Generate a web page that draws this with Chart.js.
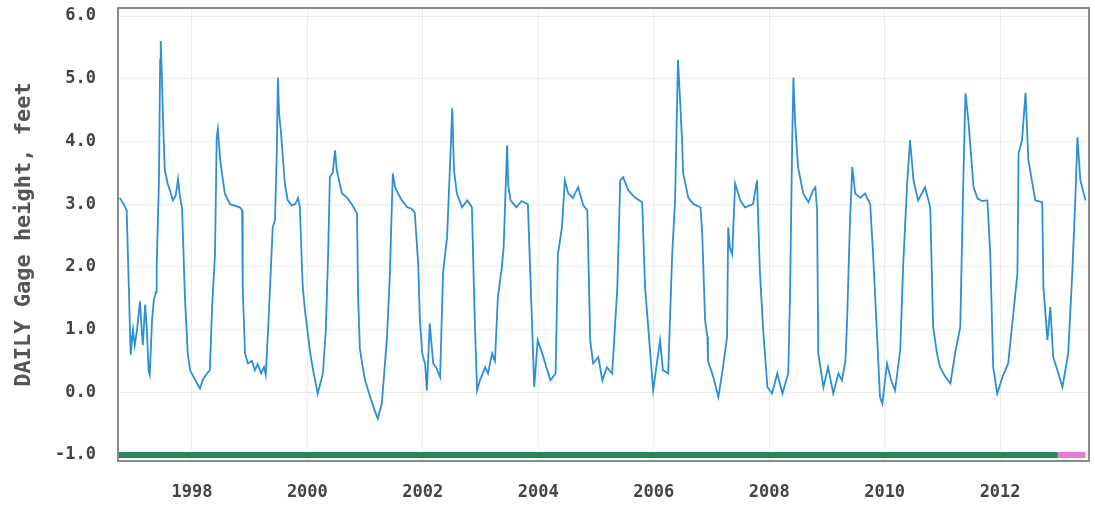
<!DOCTYPE html>
<html>
<head>
<meta charset="utf-8">
<script src="https://cdn.jsdelivr.net/npm/chart.js"></script>
<style>
  body { margin: 0; background: #fff; }
  #wrap { width: 1095px; height: 506px; position: relative; }
</style>
</head>
<body>
<div id="wrap"><canvas id="gageChart"></canvas></div>

<script>
  // DATA: decimal years and daily gage height (feet)
  const dates = [
    1996.75, 1996.82, 1996.87, 1996.91, 1996.93, 1996.94, 1996.98, 1997.01, 1997.05, 1997.10,
    1997.13, 1997.15, 1997.19, 1997.22, 1997.25, 1997.27, 1997.31, 1997.34, 1997.38, 1997.39,
    1997.43, 1997.45, 1997.46, 1997.48, 1997.50, 1997.53, 1997.58, 1997.62, 1997.67, 1997.72,
    1997.76, 1997.79, 1997.83, 1997.88, 1997.93, 1997.97, 1998.09, 1998.14, 1998.19, 1998.26,
    1998.31, 1998.35, 1998.40, 1998.43, 1998.45, 1998.49, 1998.57, 1998.66, 1998.83, 1998.87,
    1998.88, 1998.92, 1998.97, 1999.04, 1999.09, 1999.14, 1999.20, 1999.25, 1999.28, 1999.32,
    1999.40, 1999.44, 1999.47, 1999.49, 1999.51, 1999.54, 1999.61, 1999.66, 1999.73, 1999.79,
    1999.84, 1999.87, 1999.92, 1999.96, 2000.05, 2000.11, 2000.18, 2000.27, 2000.32, 2000.36,
    2000.39, 2000.44, 2000.48, 2000.51, 2000.60, 2000.69, 2000.77, 2000.86, 2000.88, 2000.91,
    2000.95, 2001.00, 2001.08, 2001.17, 2001.22, 2001.29, 2001.38, 2001.43, 2001.48, 2001.52,
    2001.57, 2001.64, 2001.73, 2001.80, 2001.86, 2001.92, 2001.95, 2001.99, 2002.04, 2002.07,
    2002.12, 2002.18, 2002.23, 2002.30, 2002.35, 2002.42, 2002.47, 2002.51, 2002.54, 2002.59,
    2002.68, 2002.77, 2002.85, 2002.90, 2002.94, 2002.99, 2003.08, 2003.13, 2003.20, 2003.25,
    2003.30, 2003.37, 2003.40, 2003.46, 2003.48, 2003.52, 2003.62, 2003.71, 2003.82, 2003.88,
    2003.93, 2003.99, 2004.07, 2004.14, 2004.21, 2004.30, 2004.34, 2004.41, 2004.46, 2004.52,
    2004.60, 2004.69, 2004.78, 2004.85, 2004.90, 2004.95, 2005.04, 2005.11, 2005.19, 2005.28,
    2005.37, 2005.42, 2005.47, 2005.56, 2005.68, 2005.80, 2005.85, 2005.94, 2005.99, 2006.06,
    2006.11, 2006.16, 2006.25, 2006.32, 2006.37, 2006.42, 2006.46, 2006.49, 2006.51, 2006.60,
    2006.69, 2006.81, 2006.84, 2006.89, 2006.93, 2006.94, 2007.03, 2007.12, 2007.20, 2007.27,
    2007.29, 2007.32, 2007.36, 2007.41, 2007.50, 2007.58, 2007.72, 2007.79, 2007.81, 2007.84,
    2007.90, 2007.97, 2008.05, 2008.14, 2008.23, 2008.33, 2008.36, 2008.40, 2008.42, 2008.45,
    2008.50, 2008.59, 2008.68, 2008.76, 2008.80, 2008.83, 2008.85, 2008.94, 2009.02, 2009.11,
    2009.20, 2009.26, 2009.32, 2009.35, 2009.40, 2009.44, 2009.49, 2009.58, 2009.66, 2009.75,
    2009.80, 2009.87, 2009.92, 2009.96, 2010.04, 2010.11, 2010.18, 2010.27, 2010.32, 2010.39,
    2010.44, 2010.50, 2010.58, 2010.70, 2010.79, 2010.84, 2010.91, 2010.96, 2011.05, 2011.14,
    2011.22, 2011.31, 2011.36, 2011.40, 2011.45, 2011.54, 2011.61, 2011.69, 2011.78, 2011.83,
    2011.88, 2011.95, 2012.04, 2012.14, 2012.23, 2012.30, 2012.32, 2012.38, 2012.44, 2012.49,
    2012.61, 2012.73, 2012.75, 2012.82, 2012.87, 2012.92, 2013.01, 2013.08, 2013.18, 2013.25,
    2013.30, 2013.34, 2013.39, 2013.48
  ];
  const gageHeight = [
    3.10, 3.00, 2.90, 1.60, 0.90, 0.60, 1.00, 0.75, 1.00, 1.45,
    1.00, 0.75, 1.40, 1.00, 0.35, 0.28, 1.15, 1.47, 1.60, 2.00,
    3.40, 5.30, 5.60, 5.05, 4.35, 3.55, 3.33, 3.22, 3.06, 3.14,
    3.40, 3.14, 2.93, 1.50, 0.60, 0.35, 0.14, 0.06, 0.20, 0.30,
    0.35, 1.35, 2.20, 4.07, 4.20, 3.70, 3.17, 3.00, 2.95, 2.90,
    1.67, 0.62, 0.46, 0.50, 0.35, 0.45, 0.30, 0.40, 0.28, 1.00,
    2.63, 2.75, 3.80, 5.02, 4.45, 4.18, 3.33, 3.06, 2.98, 3.00,
    3.10, 2.95, 1.68, 1.30, 0.62, 0.30, -0.02, 0.30, 1.00, 2.20,
    3.43, 3.50, 3.86, 3.54, 3.17, 3.10, 3.00, 2.85, 1.50, 0.70,
    0.45, 0.19, -0.05, -0.30, -0.42, -0.18, 0.88, 1.90, 3.49, 3.27,
    3.17, 3.06, 2.95, 2.93, 2.87, 2.05, 1.15, 0.62, 0.45, 0.03,
    1.10, 0.46, 0.40, 0.24, 1.90, 2.47, 3.59, 4.53, 3.54, 3.17,
    2.95, 3.06, 2.95, 1.15, 0.03, 0.19, 0.40, 0.30, 0.62, 0.50,
    1.51, 2.00, 2.31, 3.94, 3.30, 3.06, 2.95, 3.05, 3.00, 1.42,
    0.08, 0.83, 0.62, 0.40, 0.19, 0.30, 2.20, 2.63, 3.38, 3.17,
    3.10, 3.27, 2.98, 2.90, 0.83, 0.46, 0.56, 0.19, 0.40, 0.30,
    1.68, 3.38, 3.43, 3.22, 3.10, 3.03, 1.68, 0.62, 0.03, 0.50,
    0.83, 0.35, 0.30, 2.20, 3.06, 5.30, 4.60, 4.02, 3.49, 3.10,
    3.00, 2.95, 2.54, 1.15, 0.88, 0.50, 0.25, -0.08, 0.40, 0.88,
    2.63, 2.30, 2.20, 3.33, 3.06, 2.95, 3.00, 3.38, 2.74, 1.90,
    0.94, 0.08, -0.02, 0.30, -0.02, 0.30, 1.50, 4.07, 5.02, 4.30,
    3.59, 3.17, 3.03, 3.22, 3.27, 2.90, 0.62, 0.08, 0.40, -0.02,
    0.30, 0.19, 0.50, 1.15, 2.74, 3.59, 3.17, 3.10, 3.17, 3.00,
    2.20, 0.88, -0.08, -0.18, 0.46, 0.20, 0.03, 0.67, 2.00, 3.33,
    4.02, 3.38, 3.06, 3.27, 2.95, 1.04, 0.60, 0.40, 0.25, 0.14,
    0.62, 1.04, 3.27, 4.77, 4.34, 3.27, 3.09, 3.05, 3.06, 2.20,
    0.40, -0.02, 0.24, 0.46, 1.26, 1.90, 3.81, 4.02, 4.77, 3.70,
    3.06, 3.03, 1.68, 0.83, 1.36, 0.56, 0.30, 0.08, 0.62, 1.90,
    3.00, 4.07, 3.38, 3.06
  ];

  // data-status bar along the bottom (approved then provisional)
  const statusLevel = -1.0;
  const approvedSpan = [1996.72, 2013.00];
  const provisionalSpan = [2013.00, 2013.48];

  // axis ticks
  const yearTicks = [1998, 2000, 2002, 2004, 2006, 2008, 2010, 2012];
  const heightTicks = [-1, 0, 1, 2, 3, 4, 5, 6];

  const tickFont = { family: 'DejaVu Sans Mono', size: 17, weight: 'bold' };

  // full grey frame round the plot area
  const framePlugin = {
    id: 'frame',
    afterDraw(chart) {
      const { ctx, chartArea: a } = chart;
      ctx.save();
      ctx.strokeStyle = '#8a8a8a';
      ctx.lineWidth = 2;
      ctx.strokeRect(a.left, a.top, a.right - a.left, a.bottom - a.top);
      ctx.restore();
    }
  };

  new Chart(document.getElementById('gageChart'), {
    type: 'line',
    data: {
      datasets: [{
        label: 'DAILY Gage height, feet',
        data: dates.map((d, i) => ({ x: d, y: gageHeight[i] })),
        borderColor: '#2d8fd5',
        borderWidth: 1.8,
        pointRadius: 0,
        tension: 0
      }, {
        label: 'Approved',
        data: approvedSpan.map(d => ({ x: d, y: statusLevel })),
        borderColor: '#25875a',
        borderWidth: 6,
        pointRadius: 0
      }, {
        label: 'Provisional',
        data: provisionalSpan.map(d => ({ x: d, y: statusLevel })),
        borderColor: '#e77ad2',
        borderWidth: 6,
        pointRadius: 0
      }]
    },
    options: {
      responsive: true,
      maintainAspectRatio: false,
      animation: false,
      devicePixelRatio: 1,
      layout: { padding: { top: 8, right: 6, left: 0, bottom: 0 } },
      plugins: { legend: { display: false }, tooltip: { enabled: false } },
      scales: {
        x: {
          type: 'linear',
          min: 1996.72,
          max: 2013.54,
          afterBuildTicks: axis => { axis.ticks = yearTicks.map(v => ({ value: v })); },
          afterFit: axis => {
            axis.height = 45;
            axis.paddingLeft = 0;
            axis.paddingRight = 0;
          },
          grid: { color: '#ececec', lineWidth: 1, drawTicks: false },
          border: { display: false },
          ticks: {
            padding: 21,
            color: '#444',
            font: tickFont,
            maxRotation: 0,
            autoSkip: false,
            callback: v => String(v)
          }
        },
        y: {
          min: -1.096,
          max: 6.128,
          afterBuildTicks: axis => { axis.ticks = heightTicks.map(v => ({ value: v })); },
          afterFit: axis => {
            axis.width = 118;
            axis.paddingTop = 0;
            axis.paddingBottom = 0;
          },
          grid: { color: '#ececec', lineWidth: 1, drawTicks: false },
          border: { display: false },
          title: {
            display: true,
            text: 'DAILY Gage height, feet',
            color: '#555',
            font: { family: 'DejaVu Sans Mono', size: 22, weight: 'bold' },
            padding: { top: 11, bottom: 0 }
          },
          ticks: {
            padding: 22,
            color: '#444',
            font: tickFont,
            callback: v => v.toFixed(1)
          }
        }
      }
    },
    plugins: [framePlugin]
  });
</script>
</body>
</html>
